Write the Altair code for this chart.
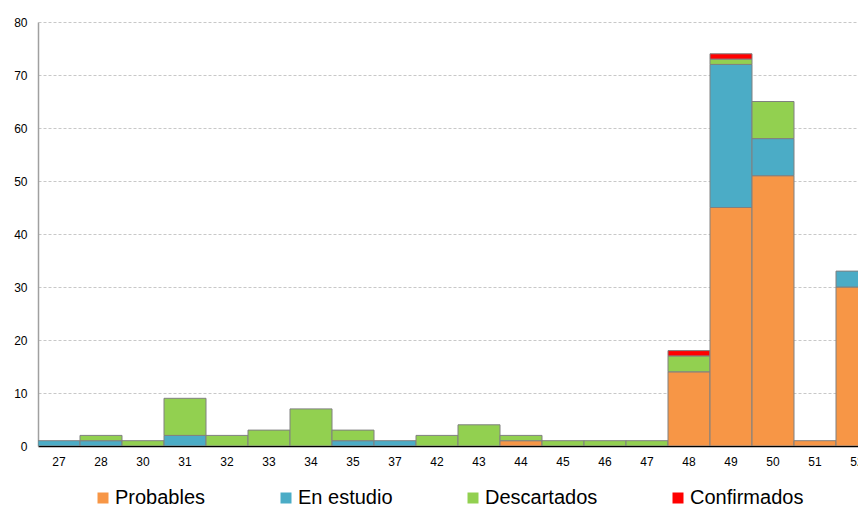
import altair as alt
import pandas as pd

weeks = ["27", "28", "30", "31", "32", "33", "34", "35", "37", "42",
         "43", "44", "45", "46", "47", "48", "49", "50", "51", "52"]
probables   = [0, 0, 0, 0, 0, 0, 0, 0, 0, 0, 0, 1, 0, 0, 0, 14, 45, 51, 1, 30]
en_estudio  = [1, 1, 0, 2, 0, 0, 0, 1, 1, 0, 0, 0, 0, 0, 0, 0, 27, 7, 0, 3]
descartados = [0, 1, 1, 7, 2, 3, 7, 2, 0, 2, 4, 1, 1, 1, 1, 3, 1, 7, 0, 0]
confirmados = [0, 0, 0, 0, 0, 0, 0, 0, 0, 0, 0, 0, 0, 0, 0, 1, 1, 0, 0, 0]

series = ["Probables", "En estudio", "Descartados", "Confirmados"]
colors = ["#F79646", "#4BACC6", "#92D050", "#FF0000"]

rows = []
for i, w in enumerate(weeks):
    for k, (name, vals) in enumerate(zip(series, [probables, en_estudio, descartados, confirmados])):
        if vals[i] > 0:
            rows.append({"semana": w, "serie": name, "casos": vals[i], "orden": k})
df = pd.DataFrame(rows)

font = "Liberation Sans"

chart = alt.Chart(df).mark_bar(stroke="#808080", strokeWidth=1, clip=True).encode(
    x=alt.X("semana:N", sort=weeks,
            scale=alt.Scale(paddingInner=0, paddingOuter=0, range=[0, 840]),
            axis=alt.Axis(title=None, labelAngle=0, ticks=False, labelPadding=10,
                          domainColor="#000000", domainWidth=1.5, grid=False,
                          labelFontSize=12, labelColor="#000000", labelFont=font)),
    y=alt.Y("casos:Q", stack="zero",
            scale=alt.Scale(domain=[0, 80], nice=False),
            axis=alt.Axis(title=None, values=[0, 10, 20, 30, 40, 50, 60, 70, 80],
                          ticks=False, tickSize=0, labelPadding=11,
                          domainColor="#a0a0a0", domainWidth=1.5,
                          grid=True, gridColor="#c8c8c8", gridDash=[3, 2], gridWidth=1,
                          labelFontSize=12, labelColor="#000000", labelFont=font)),
    color=alt.Color("serie:N", scale=alt.Scale(domain=series, range=colors),
                    legend=alt.Legend(title=None, orient="none", direction="horizontal",
                                      columns=4, legendX=55, legendY=466,
                                      symbolType="square", symbolSize=121,
                                      symbolStrokeWidth=0, labelFontSize=20,
                                      labelFont=font, labelColor="#000000",
                                      labelOffset=2, columnPadding=70, padding=0)),
    order=alt.Order("orden:Q", sort="ascending"),
).properties(
    width=820, height=424,
    autosize=alt.AutoSizeParams(type="none"),
    padding={"left": 30, "top": 14, "right": 0, "bottom": 61},
).configure_view(stroke=None)

chart.save("out.html", embed_options={"renderer": "svg", "actions": False})
